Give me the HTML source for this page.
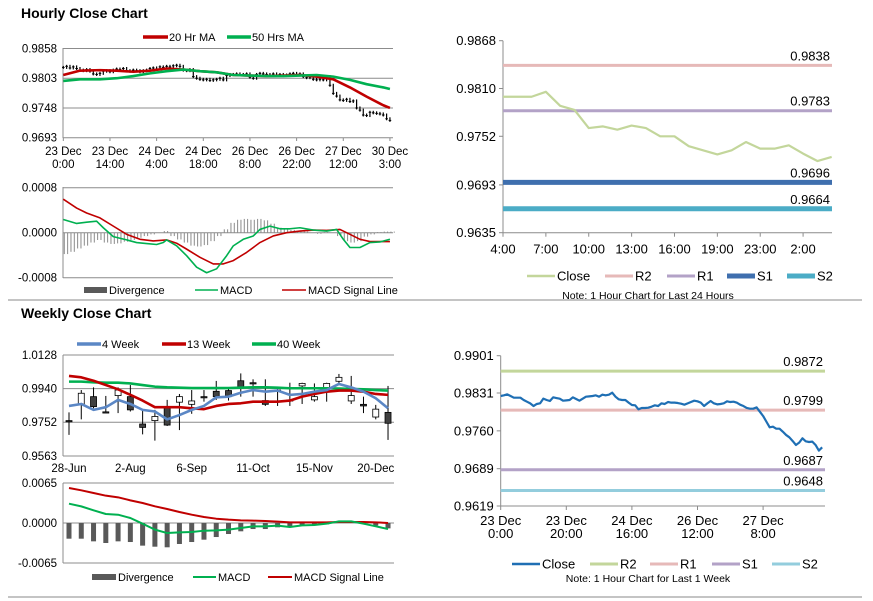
<!DOCTYPE html>
<html><head><meta charset="utf-8"><style>
html,body{margin:0;padding:0;background:#fff;}
svg{display:block;font-family:"Liberation Sans",Arial,sans-serif;}
</style></head><body>
<svg id="root" width="873" height="601" viewBox="0 0 873 601" xmlns="http://www.w3.org/2000/svg">
<text x="21" y="18" font-size="14" font-weight="bold" fill="#000">Hourly Close Chart</text>
<text x="21" y="318" font-size="14" font-weight="bold" fill="#000">Weekly Close Chart</text>
<line x1="8" y1="300" x2="862" y2="300" stroke="#888" stroke-width="1"/>
<line x1="8" y1="597" x2="862" y2="597" stroke="#888" stroke-width="1"/>
</svg>
<script>
// ---------- Hourly price data ----------
const hourLabels1 = ['23 Dec','23 Dec','24 Dec','24 Dec','26 Dec','26 Dec','27 Dec','30 Dec'];
const hourLabels2 = ['0:00','14:00','4:00','18:00','8:00','22:00','12:00','3:00'];
const hourTicks = [0.9693,0.9748,0.9803,0.9858];
const hourClose = [.9823,.9825,.9822,.9824,.9821,.9818,.9817,.9819,.9816,.9811,.9810,.9812,.9816,.9817,.9815,.9818,.9820,.9819,.9821,.9817,.9816,.9818,.9817,.9815,.9817,.9818,.9821,.9822,.9820,.9824,.9823,.9825,.9824,.9826,.9827,.9825,.9818,.9817,.9819,.9806,.9803,.9801,.9800,.9801,.9799,.9800,.9801,.9803,.9800,.9808,.9810,.9810,.9811,.9809,.9810,.9811,.9805,.9803,.9810,.9812,.9811,.9810,.9809,.9811,.9809,.9810,.9808,.9809,.9811,.9812,.9810,.9811,.9806,.9804,.9805,.9801,.9800,.9801,.9800,.9806,.9790,.9775,.9770,.9763,.9762,.9764,.9760,.9761,.9748,.9744,.9735,.9734,.9740,.9739,.9738,.9737,.9735,.9728,.9725];
const maHours = [0,5,11,16,21,26,31,36,41,46,51,56,61,66,71,76,81,86,91,96,98];
const ma20 = [.9809,.9817,.9818,.9817,.9815,.9817,.9821,.9819,.9816,.9814,.9809,.9808,.9807,.9808,.9809,.9806,.9801,.9786,.9769,.9753,.9748];
const ma50 = [.9798,.9801,.9801,.9803,.9807,.9812,.9816,.9819,.9816,.9814,.9809,.9808,.9807,.9807,.9808,.9809,.9806,.9800,.9792,.9786,.9783];
// ---------- Hourly MACD (units 1e-4) ----------
const hMacdTicks = [-0.0008,0,0.0008];
const hMacdHours = [0,4,7,10,12,15,19,22,25,28,30,31,34,37,40,43,46,49,51,54,57,59,62,65,68,71,75,79,82,84,86,89,92,95,98];
const hMacd = [2.34,1.64,1.87,2.04,.88,-.70,-1.28,-1.75,-1.93,-2.10,-1.75,-1.28,-2.34,-4.09,-6.13,-7.12,-6.42,-4.09,-2.34,-1.17,-.58,.58,1.17,.70,.70,.88,.47,.29,.58,-1.17,-2.63,-2.63,-1.75,-1.64,-1.17];
const hSigHours = [0,4,7,11,15,19,23,27,31,34,37,41,45,48,51,55,59,63,67,71,75,79,83,86,89,92,98];
const hSig = [5.96,4.38,3.50,2.63,1.17,-.29,-1.17,-1.46,-1.28,-1.87,-2.92,-4.38,-5.55,-5.55,-4.96,-3.50,-1.75,-.58,0,.29,.47,.41,.58,-.29,-1.17,-1.58,-1.58];
const hDiv = [-3.8,-3.4,-2.8,-2.3,-1.75,-1.3,-1.75,-2.0,-1.9,-1.6,-1.3,-0.9,-0.6,-0.3,0,0.3,-0.6,-1.2,-1.75,-2.3,-2.45,-2.2,-1.5,-0.6,0.6,1.75,2.3,2.45,2.3,2.45,2.2,1.6,0.9,0.6,0.5,0.3,0.2,0,-0.2,0.1,0,-0.6,-1.5,-1.75,-1.5,-0.7,-0.3,0.1,0.2,0.2];
// ---------- 24h pivot chart ----------
const pivTicks1 = [0.9635,0.9693,0.9752,0.9810,0.9868];
const pivLabels1 = ['4:00','7:00','10:00','13:00','16:00','19:00','23:00','2:00'];
const close24 = [.9800,.9800,.9800,.9806,.9789,.9784,.9762,.9764,.9760,.9765,.9762,.9752,.9752,.9740,.9735,.9730,.9735,.9745,.9737,.9737,.9741,.9731,.9722,.9727];
const levelNames1 = ['R2','R1','S1','S2'];
const levels1 = [0.9838,0.9783,0.9696,0.9664];
// ---------- Weekly ----------
const weekLabels = ['28-Jun','2-Aug','6-Sep','11-Oct','15-Nov','20-Dec'];
const weekTicks = [0.9563,0.9752,0.9940,1.0128];
const wOpen = [.9761,.9854,.9895,.9810,.9901,.9895,.9742,.9761,.9836,.9864,.9852,.9895,.9925,.9929,.9984,.9973,.9873,.9932,.9877,.9955,.9877,.9942,.9981,.9871,.9852,.9781,.9807];
const wClose = [.9761,.9914,.9839,.9810,.9932,.9821,.9723,.9784,.9736,.9895,.9871,.9895,.9895,.9895,.9947,.9973,.9852,.9932,.9871,.9969,.9895,.9969,1.0003,.9901,.9843,.9825,.9746];
const wHigh = [.9807,.9932,.9947,.9899,.9947,.9960,.9821,.9821,.9877,.9910,.9932,.9932,.9983,.9947,1.0025,.9992,.9992,.9947,.9973,.9973,.9969,.9973,1.0022,1.0011,.9895,.9849,.9955];
const wLow = [.9681,.9768,.9830,.9807,.9803,.9812,.9684,.9649,.9731,.9708,.9799,.9867,.9877,.9873,.9895,.9895,.9843,.9843,.9843,.9854,.9867,.9867,.9969,.9854,.9803,.9768,.9653];
const wk4 = [.9843,.9854,.9821,.9836,.9877,.9854,.9821,.9812,.9768,.9792,.9821,.9843,.9891,.9895,.9917,.9932,.9923,.9929,.9905,.9910,.9923,.9932,.9966,.9947,.9923,.9886,.9830];
const wk13 = [1.0011,1.0003,.9984,.9960,.9936,.9905,.9873,.9836,.9836,.9836,.9830,.9825,.9843,.9854,.9858,.9867,.9867,.9867,.9873,.9895,.9910,.9923,.9929,.9929,.9923,.9910,.9905];
const wk40 = [.9979,.9979,.9975,.9973,.9973,.9969,.9960,.9951,.9947,.9945,.9943,.9943,.9943,.9943,.9945,.9947,.9947,.9945,.9942,.9942,.9942,.9942,.9940,.9938,.9936,.9932,.9929];
// Weekly MACD (units 1e-3)
const wMacdTicks = [-0.0065,0,0.0065];
const wMacd = [3.14,2.7,2.06,1.46,1.35,.81,-.11,-1.08,-1.63,-1.52,-1.46,-1.25,-1.19,-1.08,-.81,-.54,-.54,-.43,-.65,-.38,-.33,-.11,.27,.27,-.11,-.54,-.98];
const wSig = [5.69,5.31,4.88,4.44,4.17,3.68,3.25,2.71,2.28,1.79,1.35,.98,.70,.54,.43,.38,.33,.22,.11,.11,.11,.11,.16,.16,.16,.11,0];
const wDiv = [-2.55,-2.55,-2.98,-3.25,-2.98,-3.09,-3.68,-3.85,-3.95,-3.41,-3.09,-2.71,-2.28,-1.79,-1.35,-.98,-.98,-.70,-.54,-.43,-.38,-.22,0,0,-.11,-.43,-.87];
// ---------- 1 week pivot chart ----------
const pivTicks2 = [0.9619,0.9689,0.9760,0.9831,0.9901];
const pivLabels2a = ['23 Dec','23 Dec','24 Dec','26 Dec','27 Dec'];
const pivLabels2b = ['0:00','20:00','16:00','12:00','8:00'];
const closeWeek = [.98254,.98266,.98285,.98254,.98222,.98222,.98222,.98179,.98147,.98116,.98066,.98104,.98116,.98204,.98179,.98160,.98229,.98216,.98204,.98166,.98172,.98179,.98229,.98197,.98166,.98204,.98241,.98247,.98254,.98266,.98241,.98279,.98266,.98279,.98316,.98241,.98191,.98179,.98179,.98129,.98085,.98079,.98004,.98029,.98029,.98035,.98054,.98079,.98066,.98116,.98104,.98141,.98129,.98129,.98122,.98110,.98091,.98116,.98141,.98166,.98154,.98129,.98066,.98116,.98160,.98116,.98097,.98104,.98116,.98154,.98141,.98147,.98129,.98091,.98066,.98029,.98016,.98016,.98041,.97960,.97879,.97773,.97666,.97679,.97641,.97641,.97585,.97523,.97479,.97410,.97335,.97379,.97460,.97404,.97391,.97398,.97335,.97229,.97291];
const levelNames2 = ['R2','R1','S1','S2'];
const levels2 = [0.9872,0.9799,0.9687,0.9648];

const NS='http://www.w3.org/2000/svg';
const root=document.getElementById('root');
function mk(tag,attrs,parent){const e=document.createElementNS(NS,tag);for(const k in attrs)e.setAttribute(k,attrs[k]);(parent||root).appendChild(e);return e;}
function lin(d0,d1,r0,r1){return v=>r0+(v-d0)*(r1-r0)/(d1-d0);}
function txt(x,y,s,size,anchor,parent){const t=mk('text',{x:x,y:y,'font-size':size,'text-anchor':anchor||'start',fill:'#000'},parent);t.textContent=s;return t;}
function poly(xs,ys,color,w,parent){return mk('polyline',{points:xs.map((x,i)=>x+','+ys[i]).join(' '),fill:'none',stroke:color,'stroke-width':w,'stroke-linejoin':'round'},parent);}
function fmt(v,d){return v.toFixed(d);}

// ===== Hourly price chart =====
const gH=mk('g',{});


const xH=i=>63.3+i*3.333, yH=lin(0.9693,0.9858,137.7,48.5);
hourTicks.forEach(v=>{
  const l=mk('line',{x1:63,x2:393,y1:yH(v),y2:yH(v),stroke:'#8c8c8c','stroke-width':1},gH);
  
  
  const t=txt(57,yH(v)+4,fmt(v,4),11.5,'end',gH);
  
  
});
mk('line',{x1:63,x2:63,y1:48,y2:138,stroke:'#8c8c8c'},gH);
[0,14,28,42,56,70,84,98].forEach((ix,k)=>{
  mk('line',{x1:xH(ix),x2:xH(ix),y1:137.7,y2:141,stroke:'#8c8c8c'},gH);
  const a=txt(xH(ix),155,hourLabels1[k],11.5,'middle',gH);
  
  
  txt(xH(ix),168,hourLabels2[k],11.5,'middle',gH);
});
hourClose.forEach((c,i)=>{
  const o=i>0?hourClose[i-1]:c;
  const hi=Math.max(o,c), lo=Math.min(o,c);
  const b=mk('line',{x1:xH(i),x2:xH(i),y1:yH(hi)-1.5,y2:yH(lo)+1.5,stroke:'#000','stroke-width':1.2},gH);
  
  
  mk('line',{x1:xH(i)-1.3,x2:xH(i)+1.3,y1:yH(c),y2:yH(c),stroke:'#000','stroke-width':1},gH);
});
const l20=poly(maHours.map(xH),ma20.map(yH),'#c00000',2.6,gH);


const l50=poly(maHours.map(xH),ma50.map(yH),'#00b050',2.6,gH);


// legend
mk('line',{x1:143,x2:168,y1:37,y2:37,stroke:'#c00000','stroke-width':3.5},gH);
const lg1=txt(169,41,'20 Hr MA',11,'start',gH);


mk('line',{x1:227,x2:251,y1:37,y2:37,stroke:'#00b050','stroke-width':3.5},gH);
const lg2=txt(252,41,'50 Hrs MA',11,'start',gH);



// ===== Hourly MACD =====
const gHM=mk('g',{});


const yHM=lin(-0.0008,0.0008,277.7,187.7);
hMacdTicks.forEach(v=>{
  mk('line',{x1:63,x2:393,y1:yHM(v),y2:yHM(v),stroke:'#8c8c8c'},gHM);
  const t=txt(57,yHM(v)+4,fmt(v,4),11.5,'end',gHM);
  
  
});
mk('line',{x1:63,x2:63,y1:187,y2:278,stroke:'#8c8c8c'},gHM);
hDiv.forEach((d,k)=>{
  [2*k,2*k+1].forEach(h=>{
    const b=mk('line',{x1:xH(h)+1,x2:xH(h)+1,y1:yHM(0),y2:yHM(d*1e-4),stroke:'#8a8a8a','stroke-width':1},gHM);
    
    
  });
});
const hs=poly(hSigHours.map(xH),hSig.map(v=>yHM(v*1e-4)),'#c00000',1.6,gHM);


const hm=poly(hMacdHours.map(xH),hMacd.map(v=>yHM(v*1e-4)),'#00b050',1.6,gHM);


mk('rect',{x:84,y:287,width:23,height:6,fill:'#595959'},gHM);
const hl1=txt(109,294,'Divergence',11,'start',gHM);


mk('line',{x1:195,x2:218,y1:290,y2:290,stroke:'#00b050','stroke-width':1.6},gHM);
const hl2=txt(220,294,'MACD',11,'start',gHM);


mk('line',{x1:282,x2:306,y1:290,y2:290,stroke:'#c00000','stroke-width':1.6},gHM);
const hl3=txt(308,294,'MACD Signal Line',11,'start',gHM);



// ===== Pivot chart 24h =====
function pivotChart(opt){
  const g=mk('g',{});
  
  
  const y=lin(opt.ticks[0],opt.ticks[opt.ticks.length-1],opt.y0,opt.y1);
  const x=i=>opt.x0+i*opt.dx;
  mk('line',{x1:opt.x0,x2:opt.x0,y1:opt.y1,y2:opt.y0,stroke:'#8c8c8c'},g);
  mk('line',{x1:opt.x0,x2:opt.xEnd,y1:opt.y0,y2:opt.y0,stroke:'#8c8c8c'},g);
  opt.ticks.forEach(v=>{
    mk('line',{x1:opt.x0-4,x2:opt.x0,y1:y(v),y2:y(v),stroke:'#8c8c8c'},g);
    const t=txt(opt.x0-7,y(v)+4.5,fmt(v,4),opt.fs,'end',g);
    
    
  });
  opt.labelIdx.forEach((ix,k)=>{
    mk('line',{x1:x(ix),x2:x(ix),y1:opt.y0,y2:opt.y0+4,stroke:'#8c8c8c'},g);
    const t=txt(x(ix),opt.y0+opt.lab1dy,opt.labels1[k],opt.fs,'middle',g);
    
    
    if(opt.labels2) txt(x(ix),opt.y0+opt.lab1dy+13,opt.labels2[k],opt.fs,'middle',g);
  });
  opt.levels.forEach((v,k)=>{
    const l=mk('line',{x1:opt.x0,x2:opt.xEnd,y1:y(v),y2:y(v),stroke:opt.levelColors[k],'stroke-width':opt.levelW[k]},g);
    
    
    const t=txt(opt.xEnd-2,y(v)-5,fmt(v,4),opt.fs,'end',g);
    
    
  });
  const c=poly(opt.close.map((v,i)=>x(i)),opt.close.map(y),opt.closeColor,opt.closeW,g);
  
  
  const names=['Close'].concat(opt.levelNames);
  const cols=[opt.closeColor].concat(opt.levelColors);
  const ws=[opt.closeW].concat(opt.levelW);
  names.forEach((n,k)=>{
    const lx=opt.legX[k];
    mk('line',{x1:lx,x2:lx+28,y1:opt.legY,y2:opt.legY,stroke:cols[k],'stroke-width':Math.max(ws[k],2.5)},g);
    const t=txt(lx+30,opt.legY+4.5,n,opt.fs,'start',g);
    
    
  });
  const nt=txt(opt.noteX,opt.noteY,opt.note,10.5,'middle',g);
  
  
}
pivotChart({name:'pivot-24h-chart',ticks:pivTicks1,y0:232.7,y1:40.7,x0:503,dx:14.29,xEnd:832,fs:13,
  labelIdx:[0,3,6,9,12,15,18,21],labels1:pivLabels1,labels2:null,lab1dy:21,
  levels:levels1,levelNames:levelNames1,levelColors:['#e6b9b8','#b3a2c7','#3f6fae','#4bacc6'],levelW:[3,3,5,5],
  close:close24,closeColor:'#c3d69b',closeW:2.2,legX:[527,605,667,727,787],legY:276,
  note:'Note: 1 Hour Chart for Last 24 Hours',noteX:648,noteY:299});
pivotChart({name:'pivot-week-chart',ticks:pivTicks2,y0:506,y1:355.7,x0:500.7,dx:3.28,xEnd:825,fs:13,
  labelIdx:[0,20,40,60,80],labels1:pivLabels2a,labels2:pivLabels2b,lab1dy:19,
  levels:levels2,levelNames:levelNames2,levelColors:['#c3d69b','#e6b9b8','#b3a2c7','#93cddd'],levelW:[3,3,3,3],
  close:closeWeek,closeColor:'#1f6fb4',closeW:2.2,legX:[512,590,650,712,772],legY:564,
  note:'Note: 1 Hour Chart for Last 1 Week',noteX:648,noteY:582});

// ===== Weekly price chart =====
const gW=mk('g',{});


const xW=i=>69+i*12.27, yW=lin(0.9563,1.0128,456,355);
weekTicks.forEach(v=>{
  mk('line',{x1:63,x2:394,y1:yW(v),y2:yW(v),stroke:'#8c8c8c'},gW);
  const t=txt(57,yW(v)+4,fmt(v,4),11.5,'end',gW);
  
  
});
mk('line',{x1:63,x2:63,y1:355,y2:456,stroke:'#8c8c8c'},gW);
weekLabels.forEach((s,k)=>{
  const t=txt(xW(k*5),472,s,11.5,'middle',gW);
  
  
});
wOpen.forEach((o,i)=>{
  const c=wClose[i], x=xW(i);
  const w=mk('line',{x1:x,x2:x,y1:yW(wHigh[i]),y2:yW(wLow[i]),stroke:'#000','stroke-width':1},gW);
  
  
  const top=yW(Math.max(o,c)), h=Math.max(1.2,yW(Math.min(o,c))-top);
  const r=mk('rect',{x:x-3,y:top,width:6,height:h,fill:c>o?'#fff':'#404040',stroke:'#000','stroke-width':0.8},gW);
  
  
});
[[wk40,'#00b050','ma-40-week-line'],[wk13,'#c00000','ma-13-week-line'],[wk4,'#5b87c5','ma-4-week-line']].forEach(s=>{
  const p=poly(s[0].map((v,i)=>xW(i)),s[0].map(yW),s[1],2.6,gW);
  
  
});
[[77,'#5b87c5','4 Week'],[162,'#c00000','13 Week'],[252,'#00b050','40 Week']].forEach(s=>{
  mk('line',{x1:s[0],x2:s[0]+24,y1:344,y2:344,stroke:s[1],'stroke-width':3.5},gW);
  const t=txt(s[0]+25,348,s[2],11,'start',gW);
  
  
});

// ===== Weekly MACD =====
const gWM=mk('g',{});


const yWM=lin(-0.0065,0.0065,563,483);
wMacdTicks.forEach(v=>{
  mk('line',{x1:63,x2:394,y1:yWM(v),y2:yWM(v),stroke:'#8c8c8c'},gWM);
  const t=txt(57,yWM(v)+4,fmt(v,4),11.5,'end',gWM);
  
  
});
mk('line',{x1:63,x2:63,y1:483,y2:563,stroke:'#8c8c8c'},gWM);
wDiv.forEach((d,i)=>{
  const y0=yWM(0), y1=yWM(d*1e-3);
  const b=mk('rect',{x:xW(i)-2.5,y:Math.min(y0,y1),width:5,height:Math.abs(y1-y0),fill:'#595959'},gWM);
  
  
});
const ws_=poly(wSig.map((v,i)=>xW(i)),wSig.map(v=>yWM(v*1e-3)),'#c00000',2,gWM);


const wm_=poly(wMacd.map((v,i)=>xW(i)),wMacd.map(v=>yWM(v*1e-3)),'#00b050',2,gWM);


mk('rect',{x:92,y:574,width:24,height:6,fill:'#595959'},gWM);
const wl1=txt(118,581,'Divergence',11,'start',gWM);


mk('line',{x1:193,x2:216,y1:577,y2:577,stroke:'#00b050','stroke-width':2},gWM);
const wl2=txt(218,581,'MACD',11,'start',gWM);


mk('line',{x1:268,x2:292,y1:577,y2:577,stroke:'#c00000','stroke-width':2},gWM);
const wl3=txt(294,581,'MACD Signal Line',11,'start',gWM);


</script>
</body></html>
